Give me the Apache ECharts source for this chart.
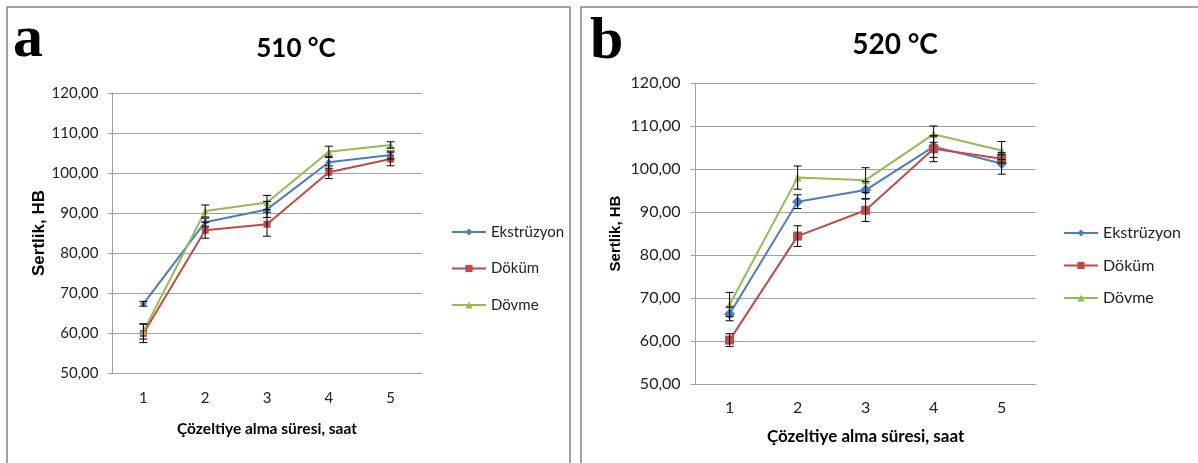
<!DOCTYPE html>
<html>
<head>
<meta charset="utf-8">
<script src="https://cdn.jsdelivr.net/npm/echarts@6/dist/echarts.min.js"></script>
<style>
  html, body { margin: 0; padding: 0; background: #fff; }
  #chart { width: 1198px; height: 463px; }
</style>
</head>
<body>
<div id="chart"></div>
<script>
// x categories: solution treatment time, hours
var hours = ['1', '2', '3', '4', '5'];
var seriesNames = ['Ekstrüzyon', 'Döküm', 'Dövme'];

// 510 °C (a)
var ekst510 = [67.3, 87.7, 90.9, 102.7, 104.5];
var ekst510Err = [0.6, 1.0, 2.0, 1.5, 1.0];
var dokum510 = [59.9, 85.7, 87.2, 100.2, 103.5];
var dokum510Err = [2.3, 2.0, 3.0, 1.6, 1.7];
var dovme510 = [60.4, 90.5, 92.6, 105.3, 107.0];
var dovme510Err = [1.9, 1.5, 1.8, 1.4, 0.8];

// 520 °C (b)
var ekst520 = [66.3, 92.4, 95.1, 105.2, 101.3];
var ekst520Err = [1.6, 1.6, 2.0, 2.5, 2.5];
var dokum520 = [60.2, 84.4, 90.4, 104.7, 102.4];
var dokum520Err = [1.5, 2.4, 2.6, 3.0, 1.0];
var dovme520 = [68.5, 98.0, 97.4, 108.1, 104.3];
var dovme520Err = [2.8, 2.7, 2.9, 1.9, 2.1];

var colors = ['#4A7EBB', '#BE4B48', '#98B954'];
var font = 'Lato';

function lineSeries(name, data, color, symbol, size, idx) {
  return {
    name: name, type: 'line', data: data,
    xAxisIndex: idx, yAxisIndex: idx,
    symbol: symbol, symbolSize: size,
    itemStyle: { color: color },
    lineStyle: { color: color, width: 2 },
    animation: false, z: 3
  };
}

// vertical error bar with caps
function errSeries(vals, errs, idx) {
  return {
    type: 'custom', name: 'err', xAxisIndex: idx, yAxisIndex: idx,
    data: vals.map(function (v, i) { return [i, v - errs[i], v + errs[i]]; }),
    encode: { x: 0, y: [1, 2] },
    silent: true, animation: false, z: 5,
    renderItem: function (params, api) {
      var lo = api.coord([api.value(0), api.value(1)]);
      var hi = api.coord([api.value(0), api.value(2)]);
      var w = 4, st = { stroke: '#000', lineWidth: 1 };
      return {
        type: 'group', children: [
          { type: 'line', shape: { x1: lo[0], y1: lo[1], x2: hi[0], y2: hi[1] }, style: st },
          { type: 'line', shape: { x1: lo[0] - w, y1: lo[1], x2: lo[0] + w, y2: lo[1] }, style: st },
          { type: 'line', shape: { x1: hi[0] - w, y1: hi[1], x2: hi[0] + w, y2: hi[1] }, style: st }
        ]
      };
    }
  };
}

function xAxis(idx, fs, nameFs, margin, gap) {
  return {
    type: 'category', gridIndex: idx, data: hours, boundaryGap: true,
    name: 'Çözeltiye alma süresi, saat', nameLocation: 'middle', nameGap: gap,
    nameTextStyle: { fontFamily: font, fontWeight: 'bold', fontSize: nameFs, color: '#000' },
    axisLine: { lineStyle: { color: '#a0a0a0', width: 1 } },
    axisTick: { show: false },
    axisLabel: { fontFamily: font, fontSize: fs, color: '#222', margin: margin },
    splitLine: { show: false }
  };
}

function yAxis(idx, fs, nameFs, margin, gap) {
  return {
    type: 'value', gridIndex: idx, min: 50, max: 120, interval: 10,
    name: 'Sertlik, HB', nameLocation: 'middle', nameGap: gap, nameRotate: 90,
    nameTextStyle: { fontFamily: 'Liberation Sans', fontWeight: 'bold', fontSize: nameFs, color: '#000' },
    axisLine: { show: true, lineStyle: { color: '#a0a0a0', width: 1 } },
    axisTick: { show: true, length: 5, lineStyle: { color: '#a0a0a0' } },
    axisLabel: {
      fontFamily: font, fontSize: fs, color: '#222', margin: margin,
      formatter: function (v) { return v.toFixed(2).replace('.', ','); }
    },
    splitLine: { lineStyle: { color: '#a0a0a0', width: 1 } }
  };
}

function legend(left, top, fs, gap) {
  return {
    orient: 'vertical', left: left, top: top, padding: 0,
    data: seriesNames, itemWidth: 34, itemHeight: 9, itemGap: gap,
    textStyle: { fontFamily: font, fontSize: fs, color: '#222', lineHeight: 16 },
    selectedMode: false
  };
}

var chart = echarts.init(document.getElementById('chart'));
chart.setOption({
  animation: false,
  color: colors,
  title: [
    { text: '510 °C', left: 291, top: 31, textAlign: 'center',
      textStyle: { fontFamily: font, fontWeight: 'bold', fontSize: 26, color: '#000' } },
    { text: '520 °C', left: 890, top: 26, textAlign: 'center',
      textStyle: { fontFamily: font, fontWeight: 'bold', fontSize: 28, color: '#000' } }
  ],
  graphic: [
    { type: 'rect', shape: { x: 7, y: 7, width: 563, height: 480 },
      style: { fill: 'none', stroke: '#868686', lineWidth: 1.5 }, silent: true },
    { type: 'rect', shape: { x: 581, y: 7, width: 640, height: 480 },
      style: { fill: 'none', stroke: '#868686', lineWidth: 1.5 }, silent: true },
    { type: 'text', left: 13, top: 10,
      style: { text: 'a', font: 'bold 60px "Liberation Serif"', fill: '#000' } },
    { type: 'text', left: 590, top: 12,
      style: { text: 'b', font: 'bold 60px "Liberation Serif"', fill: '#000' } }
  ],
  legend: [legend(451, 224, 15, 20.5), legend(1063, 225, 16, 16.5)],
  grid: [
    { left: 112.5, top: 93, width: 309, height: 280 },
    { left: 695.6, top: 83, width: 340, height: 301 }
  ],
  xAxis: [xAxis(0, 15, 15.5, 18, 48), xAxis(1, 16, 17, 16, 44)],
  yAxis: [yAxis(0, 15, 17, 14, 64), yAxis(1, 16, 15, 15, 72)],
  series: [
    lineSeries(seriesNames[0], ekst510, colors[0], 'diamond', 7, 0),
    lineSeries(seriesNames[1], dokum510, colors[1], 'rect', 7, 0),
    lineSeries(seriesNames[2], dovme510, colors[2], 'triangle', 7, 0),
    errSeries(ekst510, ekst510Err, 0),
    errSeries(dokum510, dokum510Err, 0),
    errSeries(dovme510, dovme510Err, 0),
    lineSeries(seriesNames[0], ekst520, colors[0], 'diamond', 11, 1),
    lineSeries(seriesNames[1], dokum520, colors[1], 'rect', 9, 1),
    lineSeries(seriesNames[2], dovme520, colors[2], 'triangle', 8, 1),
    errSeries(ekst520, ekst520Err, 1),
    errSeries(dokum520, dokum520Err, 1),
    errSeries(dovme520, dovme520Err, 1)
  ]
});
</script>
</body>
</html>
